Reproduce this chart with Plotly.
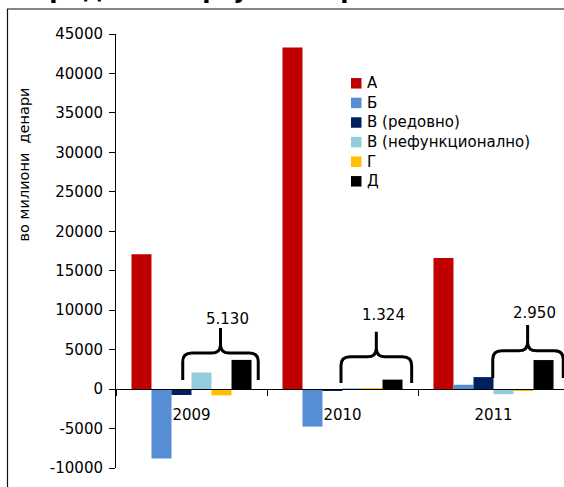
import plotly.graph_objects as go

# ---- data ----
years = ["2009", "2010", "2011"]
series_names = ["А", "Б", "В (редовно)", "В (нефункционално)", "Г", "Д"]
vals_A = [17100, 43300, 16600]
vals_B = [-8800, -4750, 550]
vals_V_red = [-750, -150, 1520]
vals_V_nef = [2100, 100, -650]
vals_G = [-800, 24, -120]
vals_D = [3700, 1200, 3680]
brace_labels = ["5.130", "1.324", "2.950"]
title_text = "според категоријата на ризик"
y_title = "во милиони  денари"
y_ticks = list(range(-10000, 45001, 5000))

colors = ["#C00000", "#558ED5", "#002060", "#93CDDD", "#FFC000", "#000000"]
all_vals = [vals_A, vals_B, vals_V_red, vals_V_nef, vals_G, vals_D]

W, H = 564, 487
ML, MR, MT, MB = 116, 0, 34, 19
plot_w = W - ML - MR
plot_h = H - MT - MB
FONT = "DejaVu Sans"


def px_x(px):
    return (px - ML) / plot_w


def px_y(py):
    return 1 - (py - MT) / plot_h


fig = go.Figure()
for name, vals, col in zip(series_names, all_vals, colors):
    fig.add_trace(go.Bar(x=years, y=vals, name=name, marker_color=col,
                         marker_line_width=0, showlegend=False))

# brace geometry (style: offsets relative to category centre, data units)
brace_geom = [
    dict(x0=-0.058, x1=0.442, xm=0.192, yb=1140, yh=4560, yp=7730, ly=8870),
    dict(x0=-0.010, x1=0.458, xm=0.224, yb=760, yh=4090, yp=7260, ly=9380),
    dict(x0=-0.005, x1=0.462, xm=0.226, yb=1390, yh=4850, yp=8110, ly=9670),
]
rx, ry = 0.06, 1100
shapes = []
annotations = []
for i, (g, lab) in enumerate(zip(brace_geom, brace_labels)):
    x0, x1, xm = i + g["x0"], i + g["x1"], i + g["xm"]
    yb, yh, yp = g["yb"], g["yh"], g["yp"]
    path = (f"M{x0},{yb} L{x0},{yh-ry} Q{x0},{yh} {x0+rx},{yh} "
            f"L{xm-rx},{yh} Q{xm},{yh} {xm},{yh+ry} L{xm},{yp} "
            f"M{xm},{yp} L{xm},{yh+ry} Q{xm},{yh} {xm+rx},{yh} "
            f"L{x1-rx},{yh} Q{x1},{yh} {x1},{yh-ry} L{x1},{yb}")
    shapes.append(dict(type="path", xref="x", yref="y", path=path,
                       line=dict(color="black", width=3)))
    annotations.append(dict(x=i + g["xm"] + 0.045, y=g["ly"], xref="x", yref="y",
                            text=lab, showarrow=False,
                            font=dict(family=FONT, size=15, color="black")))

# manual legend (squares + labels)
leg_x_sq, leg_x_txt, leg_y0, leg_dy, sq = 351, 365, 83.3, 19.6, 10.5
for k, (name, col) in enumerate(zip(series_names, colors)):
    cy = leg_y0 + k * leg_dy
    shapes.append(dict(type="rect", xref="paper", yref="paper",
                       x0=px_x(leg_x_sq), x1=px_x(leg_x_sq + sq),
                       y0=px_y(cy + sq / 2), y1=px_y(cy - sq / 2),
                       fillcolor=col, line=dict(width=0)))
    annotations.append(dict(xref="paper", yref="paper", x=px_x(leg_x_txt), xanchor="left",
                            y=px_y(cy), yanchor="middle", text=name, showarrow=False,
                            font=dict(family=FONT, size=15, color="black")))

# outer frame
shapes.append(dict(type="rect", xref="paper", yref="paper",
                   x0=px_x(7.5), x1=1.05,
                   y0=-0.1, y1=px_y(9),
                   line=dict(color="#111111", width=1.2), layer="above"))

annotations.append(dict(xref="paper", yref="paper", x=px_x(23), xanchor="center",
                        y=px_y(164.5), yanchor="middle", text=y_title, textangle=-90,
                        showarrow=False,
                        font=dict(family=FONT, size=14.5, color="black")))
annotations.append(dict(xref="paper", yref="paper", x=px_x(0), xanchor="left",
                        y=1, yanchor="middle", yshift=MT + 10, text="<b>" + title_text + "</b>",
                        showarrow=False,
                        font=dict(family=FONT, size=24, color="black")))

zero_pos = (0 - y_ticks[0]) / (y_ticks[-1] - y_ticks[0])

fig.update_layout(
    width=W, height=H,
    margin=dict(l=ML, r=MR, t=MT, b=MB, autoexpand=False),
    paper_bgcolor="white", plot_bgcolor="white",
    barmode="group", bargap=0.205, bargroupgap=0,
    font=dict(family=FONT, size=15, color="black"),
    showlegend=False,
    xaxis=dict(type="category", categoryorder="array", categoryarray=years,
               range=[-0.5, -0.5 + plot_w / 151.0],
               anchor="free", position=zero_pos,
               showline=True, linecolor="black", linewidth=1,
               ticks="outside", tickson="boundaries", ticklen=6,
               tickcolor="black", showgrid=False, zeroline=False,
               ticklabelstandoff=12,
               tickfont=dict(family=FONT, size=15, color="black")),
    yaxis=dict(range=[y_ticks[0], y_ticks[-1]], tickvals=y_ticks,
               ticktext=[str(v) for v in y_ticks],
               showline=True, linecolor="black", linewidth=1,
               ticks="outside", ticklen=6, tickcolor="black",
               showgrid=False, zeroline=False, ticklabelstandoff=3,
               tickfont=dict(family=FONT, size=15, color="black")),
    shapes=shapes, annotations=annotations,
)

fig.write_html("out.html", config={"displayModeBar": False},
               post_script="document.body.style.margin='0px';document.body.style.padding='0px';")
